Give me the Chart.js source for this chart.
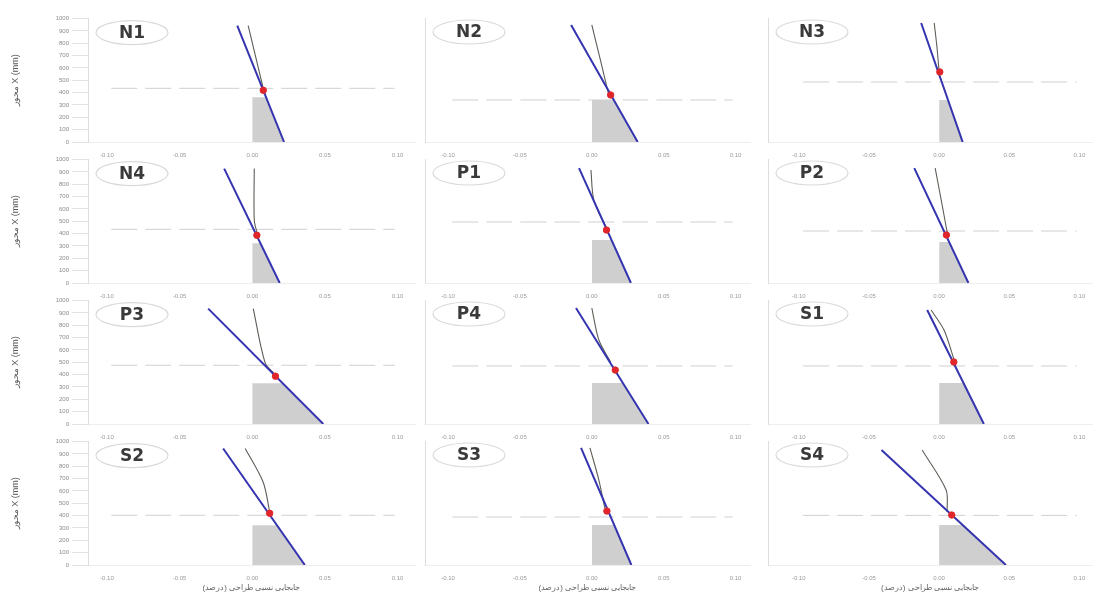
<!DOCTYPE html>
<html>
<head>
<meta charset="utf-8">
<script src="https://cdn.jsdelivr.net/npm/chart.js@4.4.0/dist/chart.umd.min.js"></script>
<style>
body { margin: 0; background: #fff; width: 1097px; height: 593px; overflow: hidden; position: relative; }
.p { position: absolute; }
</style>
</head>
<body>
<script>
// panel names, 4 rows x 3 columns
var names = ['N1', 'N2', 'N3', 'N4', 'P1', 'P2', 'P3', 'P4', 'S1', 'S2', 'S3', 'S4'];

// blue line: top point [x, y] and x where it reaches y = 0
var blueTop = [[-0.0103, 944], [-0.0144, 944], [-0.0128, 960], [-0.0193, 927], [-0.0089, 927], [-0.0177, 927],
               [-0.0303, 935], [-0.0110, 935], [-0.0085, 919], [-0.0200, 944], [-0.0075, 944], [-0.0411, 927]];
var blueBottom = [0.0219, 0.0319, 0.0168, 0.0189, 0.0272, 0.0209, 0.0489, 0.0394, 0.0319, 0.0362, 0.0275, 0.0476];

// gray curve
var grayCurves = [
  [[-0.0028, 944], [0.0041, 605], [0.0076, 435]],
  [[0.0000, 944], [0.0060, 660], [0.0118, 379]],
  [[-0.0035, 960], [-0.0015, 760], [0.0000, 565]],
  [[0.0014, 927], [0.0014, 508], [0.0034, 403]],
  [[-0.0006, 911], [0.0014, 669], [0.0097, 452]],
  [[-0.0028, 927], [0.0028, 589], [0.0057, 411]],
  [[0.0007, 935], [0.0090, 492], [0.0159, 400]],
  [[0.0000, 935], [0.0049, 677], [0.0131, 500]],
  [[-0.0057, 919], [0.0035, 758], [0.0106, 520]],
  [[-0.0048, 944], [0.0076, 669], [0.0120, 430]],
  [[-0.0013, 944], [0.0049, 685], [0.0090, 460]],
  [[-0.0121, 927], [0.0050, 605], [0.0057, 427]]
];

// red point
var redPoints = [[0.0076, 419], [0.0131, 379], [0.0005, 565], [0.0032, 387], [0.0102, 427], [0.0052, 387],
                 [0.0160, 387], [0.0163, 435], [0.0105, 500], [0.0120, 419], [0.0105, 435], [0.0090, 403]];

// dashed horizontal level
var dashedLevels = [435, 339, 484, 435, 492, 419, 476, 468, 468, 403, 387, 400];
var dashedSpan = [-0.097, 0.098];

// shaded area: top corner [x, y] (left side at x = 0)
var shadeTop = [[0.0095, 363], [0.0153, 339], [0.0064, 339], [0.0056, 323], [0.0137, 347], [0.0071, 331],
                [0.0209, 331], [0.0216, 331], [0.0173, 331], [0.0170, 323], [0.0155, 323], [0.0167, 323]];

var xTicks = [-0.10, -0.05, 0.00, 0.05, 0.10];
var yTicks = [0, 100, 200, 300, 400, 500, 600, 700, 800, 900, 1000];
var yTitle = 'محور X (mm)';
var xTitle = 'جابجایی نسبی طراحی (درصد)';

// layout per column
var colLeft = [8, 420, 763];
var colWidth = [412, 335, 334];
var yAxisWidth = [80, 5, 5];
var padRight = [5, 3, 4];
var xMin = [-0.113, -0.116, -0.122];
var xMax = [0.112, 0.110, 0.109];

var badge = {
  id: 'badge',
  afterDraw: function (chart, args, opts) {
    var c = chart.ctx, a = chart.chartArea;
    var cx = a.left + 44, cy = a.top + 14;
    c.save();
    c.beginPath();
    c.ellipse(cx, cy, 36, 12, 0, 0, Math.PI * 2);
    c.strokeStyle = '#dadada';
    c.lineWidth = 1.2;
    c.stroke();
    c.fillStyle = '#3a3a3a';
    c.font = 'bold 17px "DejaVu Sans", Verdana, sans-serif';
    c.textAlign = 'center';
    c.textBaseline = 'middle';
    c.fillText(opts.text, cx, cy + 1);
    c.restore();
  }
};

function pt(p) { return {x: p[0], y: p[1]}; }

names.forEach(function (name, i) {
  var row = Math.floor(i / 3), col = i % 3;
  var last = row === 3;
  var top = 12 + 141 * row;
  var h = last ? 593 - top : 150;

  var div = document.createElement('div');
  div.className = 'p';
  div.style.left = colLeft[col] + 'px';
  div.style.top = top + 'px';
  div.style.width = colWidth[col] + 'px';
  div.style.height = h + 'px';
  var cv = document.createElement('canvas');
  div.appendChild(cv);
  document.body.appendChild(div);

  var st = shadeTop[i];
  new Chart(cv, {
    type: 'scatter',
    data: {
      datasets: [
        { data: [pt(redPoints[i])], pointRadius: 3.2, backgroundColor: '#e0262a', borderColor: '#e0262a' },
        { data: [pt(blueTop[i]), {x: blueBottom[i], y: 0}], showLine: true, borderColor: '#3434b0',
          borderWidth: 2, pointRadius: 0 },
        { data: grayCurves[i].map(pt), showLine: true, borderColor: '#5e5e58', borderWidth: 1.1,
          pointRadius: 0, tension: 0.3 },
        { data: [{x: dashedSpan[0], y: dashedLevels[i]}, {x: dashedSpan[1], y: dashedLevels[i]}],
          showLine: true, borderColor: '#d0d0d0', borderWidth: 1, borderDash: [26, 8], pointRadius: 0 },
        { data: [{x: 0, y: 0}, {x: 0, y: st[1]}, pt(st), {x: blueBottom[i], y: 0}], showLine: true,
          borderWidth: 0, borderColor: 'rgba(0,0,0,0)', pointRadius: 0,
          backgroundColor: 'rgba(175,175,175,0.6)', fill: 'origin' }
      ]
    },
    options: {
      responsive: true,
      maintainAspectRatio: false,
      animation: false,
      events: [],
      layout: { padding: { top: 6, right: padRight[col], left: 0, bottom: 0 } },
      plugins: {
        legend: { display: false },
        tooltip: { enabled: false },
        badge: { text: name }
      },
      scales: {
        x: {
          type: 'linear',
          min: xMin[col],
          max: xMax[col],
          afterBuildTicks: function (s) { s.ticks = xTicks.map(function (v) { return {value: v}; }); },
          afterFit: function (s) { s.height = last ? 28 : 20; },
          grid: { display: false },
          border: { display: true, color: '#eeeeee' },
          ticks: { font: { size: 6 }, color: '#9a9a9a', padding: 2, maxRotation: 0,
                   callback: function (v) { return Number(v).toFixed(2); } },
          title: { display: last, text: xTitle, font: { size: 8 }, color: '#666', padding: 0 }
        },
        y: {
          min: 0,
          max: 1000,
          afterBuildTicks: function (s) { s.ticks = yTicks.map(function (v) { return {value: v}; }); },
          afterFit: function (s) { s.width = yAxisWidth[col]; },
          grid: { display: col === 0, drawOnChartArea: false, tickLength: 16, color: '#e2e2e2' },
          border: { display: true, color: '#dddddd' },
          ticks: { display: col === 0, font: { size: 6 }, color: '#8a8a8a', padding: 3,
                   callback: function (v) { return String(v); } },
          title: { display: col === 0, text: yTitle, font: { size: 9 }, color: '#555', padding: 2 }
        }
      }
    },
    plugins: [badge]
  });
});
</script>
</body>
</html>
